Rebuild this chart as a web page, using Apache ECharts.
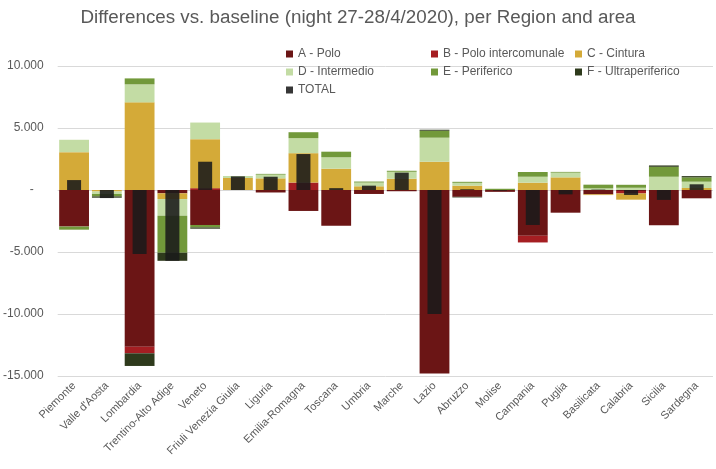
<!DOCTYPE html>
<html>
<head>
<meta charset="utf-8">
<script src="https://cdn.jsdelivr.net/npm/echarts@6/dist/echarts.min.js"></script>
<style>html,body{margin:0;padding:0;background:#fff}#c{width:716px;height:469px}</style>
</head>
<body>
<div id="c"></div>
<script>
var regions = ['Piemonte', "Valle d'Aosta", 'Lombardia', 'Trentino-Alto Adige', 'Veneto', 'Friuli Venezia Giulia', 'Liguria', 'Emilia-Romagna', 'Toscana', 'Umbria', 'Marche', 'Lazio', 'Abruzzo', 'Molise', 'Campania', 'Puglia', 'Basilicata', 'Calabria', 'Sicilia', 'Sardegna'];

var seriesNames = ['A - Polo', 'B - Polo intercomunale', 'C - Cintura', 'D - Intermedio', 'E - Periferico', 'F - Ultraperiferico', 'TOTAL'];

var polo =            [-2950, 0, -12640, -270, -2820, 0, -200, -1690, -2880, -320, -100, -14800, -550, -150, -3690, -1830, -350, -80, -2850, -670];
var poloInterc =      [0, 0, -530, 0, 150, 0, 0, 600, 0, 0, 0, 0, 0, 0, -540, 0, 0, -200, 0, 0];
var cintura =         [3050, -120, 7070, -460, 3950, 970, 940, 2370, 1720, 300, 910, 2280, 350, 0, 590, 1020, -60, -500, 0, 160];
var intermedio =      [1000, -200, 1450, -1350, 1340, 160, 300, 1210, 920, 300, 560, 1940, 230, 0, 480, 380, 130, 180, 1070, 510];
var periferico =      [-250, -200, 480, -2980, -200, 0, 60, 480, 450, 80, 80, 560, 80, 100, 380, 60, 300, 240, 800, 350];
var ultraperiferico = [0, -100, -1020, -650, -100, 0, 0, 0, 0, 0, 0, 80, -50, 0, 0, 0, 0, 0, 110, 100];
var total =           [800, -650, -5160, -5700, 2280, 1100, 1070, 2900, 150, 350, 1400, -10000, 60, -50, -2820, -350, 30, -400, -800, 460];

var yMin = -15000, yMax = 10000, yStep = 5000;

var colors = ['#6B1515', '#A51E22', '#D4AA38', '#C3DCA4', '#72993A', '#2E3A1C', '#1a1a1a'];
var stackData = [polo, poloInterc, cintura, intermedio, periferico, ultraperiferico];

function fmt(v) {
  if (v === 0) return '-   ';
  var s = Math.abs(v).toString().replace(/\B(?=(\d{3})+(?!\d))/g, '.');
  return (v < 0 ? '-' : '') + s;
}

var font = 'Liberation Sans, Arial, sans-serif';
var grey = '#595959';

var series = stackData.map(function (d, i) {
  return {
    name: seriesNames[i], type: 'bar', stack: 'areas', data: d,
    xAxisIndex: 0, barCategoryGap: '9%',
    itemStyle: { color: colors[i] }
  };
});
series.push({
  name: 'TOTAL', type: 'bar', data: total, xAxisIndex: 1, barWidth: 14, z: 5,
  itemStyle: { color: colors[6], opacity: 0.88 }
});

function legend(names, left) {
  return {
    data: names, left: left, top: 42, orient: 'vertical', itemGap: 4,
    itemWidth: 7, itemHeight: 7, itemTextGap: 3, icon: 'rect',
    textStyle: { fontFamily: font, fontSize: 12, color: grey, lineHeight: 14 }
  };
}

var chart = echarts.init(document.getElementById('c'), null, { renderer: 'canvas' });
chart.setOption({
  animation: false,
  color: colors,
  title: {
    text: 'Differences vs. baseline (night 27-28/4/2020), per Region and area',
    left: 'center', top: 3,
    textStyle: { fontFamily: font, fontSize: 18.8, fontWeight: 'normal', color: grey }
  },
  legend: [
    legend(['A - Polo', 'D - Intermedio', 'TOTAL'], 281),
    legend(['B - Polo intercomunale', 'E - Periferico'], 426),
    legend(['C - Cintura', 'F - Ultraperiferico'], 570)
  ],
  grid: { left: 57, right: 3, top: 66, bottom: 93 },
  xAxis: [{
    type: 'category', data: regions,
    axisLine: { show: false, onZero: false }, axisTick: { show: false },
    axisLabel: { rotate: 45, interval: 0, margin: 8, fontFamily: font, fontSize: 11, color: grey }
  }, {
    type: 'category', data: regions, show: false,
    axisLine: { show: false, onZero: false }
  }],
  yAxis: {
    type: 'value', min: yMin, max: yMax, interval: yStep,
    axisLine: { show: false }, axisTick: { show: false },
    splitLine: { lineStyle: { color: '#d9d9d9', width: 1 } },
    axisLabel: { formatter: fmt, margin: 14, fontFamily: font, fontSize: 12, color: grey }
  },
  series: series
});
</script>
</body>
</html>
